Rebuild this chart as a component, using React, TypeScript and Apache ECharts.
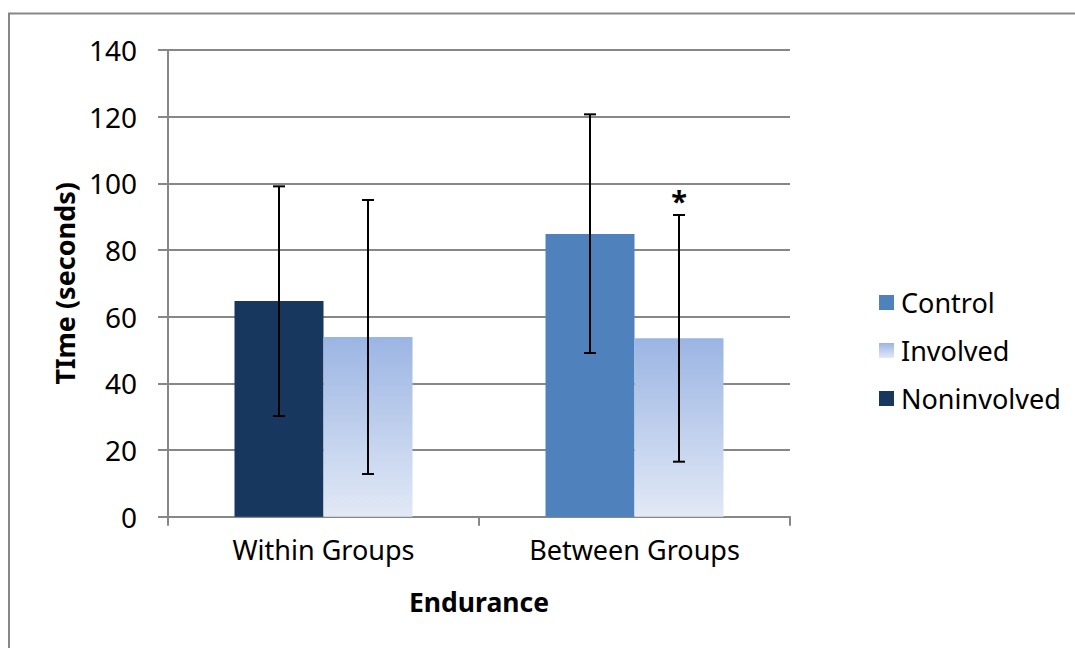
import React, { useEffect, useRef } from "react";
import * as echarts from "echarts";

const categories = ["Within Groups", "Between Groups"];
const noninvolved: (number | string)[] = [64.7, "-"];
const control: (number | string)[] = ["-", 84.8];
const involved = [53.9, 53.5];
// error bars: first slot (Noninvolved / Control), second slot (Involved)
const firstLow = [30.2, 49.1];
const firstHigh = [99.1, 120.7];
const involvedLow = [12.8, 16.5];
const involvedHigh = [95.0, 90.5];
const involvedMark = ["", "*"];
const yTicks = [0, 20, 40, 60, 80, 100, 120, 140];

const FONT = "'Noto Sans', 'Open Sans', sans-serif";
const BAR_W = 89;

export default function App() {
  const ref = useRef<HTMLDivElement>(null);
  useEffect(() => {
    if (!ref.current) return;
    const chart = echarts.init(ref.current, null, { renderer: "svg" });
    const errData: any[] = [];
    categories.forEach((_, i) => {
      errData.push([i, firstLow[i], firstHigh[i], -1, ""]);
      errData.push([i, involvedLow[i], involvedHigh[i], 1, involvedMark[i]]);
    });
    const involvedGradient = new echarts.graphic.LinearGradient(0, 0, 0, 1, [
      { offset: 0, color: "#9bb5e3" },
      { offset: 1, color: "#e2e9f6" },
    ]);
    chart.setOption({
      animation: false,
      textStyle: { fontFamily: FONT },
      graphic: [
        {
          type: "rect",
          shape: { x: 9, y: 13.5, width: 1200, height: 800 },
          style: { fill: "none", stroke: "#878787", lineWidth: 2 },
          silent: true,
        },
      ],
      grid: { left: 168, top: 50, right: 285, bottom: 131.3 },
      legend: {
        orient: "vertical",
        left: 874,
        top: 284,
        itemWidth: 15,
        itemHeight: 15,
        itemGap: 21,
        data: ["Control", "Involved", "Noninvolved"],
        textStyle: { fontSize: 27, color: "#000", fontFamily: FONT, padding: [0, 0, 0, 2] },
        icon: "rect",
      },
      xAxis: {
        type: "category",
        data: categories,
        axisLine: { lineStyle: { color: "#878787", width: 2 } },
        axisTick: { show: true, length: 9, lineStyle: { color: "#878787", width: 2 } },
        axisLabel: { fontSize: 27, color: "#000", margin: 19, fontFamily: FONT },
        name: "Endurance",
        nameLocation: "middle",
        nameGap: 72,
        nameTextStyle: { fontSize: 26.5, fontWeight: "bold", color: "#000", fontFamily: FONT },
      },
      yAxis: {
        type: "value",
        min: yTicks[0],
        max: yTicks[yTicks.length - 1],
        interval: 20,
        axisLine: { show: true, lineStyle: { color: "#878787", width: 2 } },
        axisTick: { show: true, length: 10, lineStyle: { color: "#878787", width: 2 } },
        splitLine: { lineStyle: { color: "#878787", width: 2 } },
        axisLabel: { fontSize: 28, color: "#000", margin: 31, fontFamily: FONT },
        name: "TIme (seconds)",
        nameLocation: "middle",
        nameGap: 87,
        nameTextStyle: { fontSize: 27, fontWeight: "bold", color: "#000", fontFamily: FONT },
      },
      series: [
        {
          name: "Noninvolved",
          type: "bar",
          stack: "first",
          data: noninvolved,
          barWidth: BAR_W,
          barGap: "0%",
          itemStyle: { color: "#17375e" },
        },
        {
          name: "Control",
          type: "bar",
          stack: "first",
          data: control,
          barWidth: BAR_W,
          barGap: "0%",
          itemStyle: { color: "#4f81bd" },
        },
        {
          name: "Involved",
          type: "bar",
          data: involved,
          barWidth: BAR_W,
          barGap: "0%",
          itemStyle: { color: involvedGradient },
        },
        {
          type: "custom",
          name: "err",
          silent: true,
          z: 10,
          data: errData,
          renderItem: (params: any, api: any) => {
            const cat = api.value(0);
            const lo = api.coord([cat, api.value(1)]);
            const hi = api.coord([cat, api.value(2)]);
            const side = api.value(3);
            const x = lo[0] + side * (BAR_W / 2);
            const cap = 6;
            const style = { stroke: "#000", lineWidth: 2 };
            const children: any[] = [
              { type: "line", shape: { x1: x, y1: lo[1], x2: x, y2: hi[1] }, style },
              { type: "line", shape: { x1: x - cap, y1: lo[1], x2: x + cap, y2: lo[1] }, style },
              { type: "line", shape: { x1: x - cap, y1: hi[1], x2: x + cap, y2: hi[1] }, style },
            ];
            const mark = errData[params.dataIndex][4];
            if (mark) {
              children.push({
                type: "text",
                style: {
                  text: mark,
                  x: x,
                  y: hi[1] - 15,
                  align: "center",
                  verticalAlign: "middle",
                  fontSize: 29,
                  fontWeight: "bold",
                  fontFamily: FONT,
                  fill: "#000",
                },
              });
            }
            return { type: "group", children };
          },
        },
      ],
    });
    return () => chart.dispose();
  }, []);
  return (
    <div
      ref={ref}
      style={{ position: "fixed", left: 0, top: 0, width: 1075, height: 648, background: "#fff" }}
    />
  );
}
